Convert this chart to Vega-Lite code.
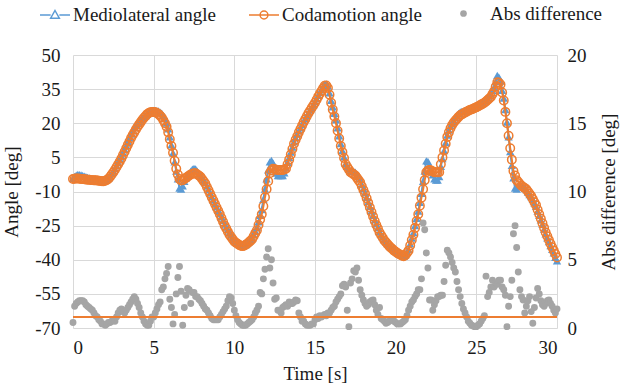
{
  "$schema": "https://vega.github.io/schema/vega-lite/v6.json",
  "width": 484,
  "height": 273,
  "autosize": {"type": "none"},
  "padding": {"left": 73, "top": 55, "right": 65, "bottom": 61},
  "config": {"view": {"stroke": null}},
  "datasets": {
    "series": [
      {"t":0.0,"m":-4.2,"c":-4.5,"d":0.4},{"t":0.1,"m":-3.4,"c":-4.4,"d":1.6},{"t":0.2,"m":-2.8,"c":-4.3,"d":1.8},{"t":0.3,"m":-2.5,"c":-4.3,"d":1.9},{"t":0.4,"m":-2.6,"c":-4.4,"d":2.0},
      {"t":0.5,"m":-2.7,"c":-4.5,"d":2.0},{"t":0.6,"m":-2.9,"c":-4.5,"d":2.0},{"t":0.7,"m":-3.2,"c":-4.6,"d":1.9},{"t":0.8,"m":-3.5,"c":-4.7,"d":1.7},{"t":0.9,"m":-3.8,"c":-4.8,"d":1.6},
      {"t":1.0,"m":-4.0,"c":-4.8,"d":1.5},{"t":1.1,"m":-4.3,"c":-4.9,"d":1.4},{"t":1.2,"m":-4.6,"c":-5.0,"d":1.3},{"t":1.3,"m":-4.8,"c":-5.1,"d":1.1},{"t":1.4,"m":-4.9,"c":-5.1,"d":0.9},
      {"t":1.5,"m":-5.0,"c":-5.2,"d":0.8},{"t":1.6,"m":-5.1,"c":-5.3,"d":0.6},{"t":1.7,"m":-5.2,"c":-5.4,"d":0.5},{"t":1.8,"m":-5.3,"c":-5.5,"d":0.3},{"t":1.9,"m":-5.3,"c":-5.5,"d":0.3},
      {"t":2.0,"m":-5.1,"c":-5.3,"d":0.2},{"t":2.1,"m":-4.7,"c":-4.9,"d":0.3},{"t":2.2,"m":-4.1,"c":-4.4,"d":0.4},{"t":2.3,"m":-3.2,"c":-3.5,"d":0.4},{"t":2.4,"m":-2.1,"c":-2.5,"d":0.5},
      {"t":2.5,"m":-1.0,"c":-1.5,"d":0.6},{"t":2.6,"m":0.0,"c":-0.4,"d":0.5},{"t":2.7,"m":1.4,"c":0.8,"d":0.8},{"t":2.8,"m":2.8,"c":2.0,"d":1.1},{"t":2.9,"m":4.3,"c":3.2,"d":1.3},
      {"t":3.0,"m":5.7,"c":4.5,"d":1.4},{"t":3.1,"m":7.1,"c":6.0,"d":1.2},{"t":3.2,"m":8.5,"c":7.5,"d":1.1},{"t":3.3,"m":10.2,"c":9.0,"d":1.3},{"t":3.4,"m":11.9,"c":10.5,"d":1.5},
      {"t":3.5,"m":13.6,"c":12.0,"d":1.7},{"t":3.6,"m":15.2,"c":13.5,"d":1.9},{"t":3.7,"m":16.7,"c":14.8,"d":2.1},{"t":3.8,"m":18.1,"c":16.0,"d":2.3},{"t":3.9,"m":19.2,"c":17.3,"d":2.1},
      {"t":4.0,"m":20.1,"c":18.5,"d":1.8},{"t":4.1,"m":20.8,"c":19.5,"d":1.5},{"t":4.2,"m":21.5,"c":20.5,"d":1.1},{"t":4.3,"m":22.2,"c":21.5,"d":0.8},{"t":4.4,"m":22.8,"c":22.4,"d":0.5},
      {"t":4.5,"m":23.4,"c":23.2,"d":0.3},{"t":4.6,"m":24.1,"c":24.0,"d":0.2},{"t":4.7,"m":24.6,"c":24.5,"d":0.2},{"t":4.8,"m":25.2,"c":24.8,"d":0.5},{"t":4.9,"m":25.7,"c":25.0,"d":0.8},
      {"t":5.0,"m":25.7,"c":25.0,"d":0.8},{"t":5.1,"m":25.6,"c":24.8,"d":1.1},{"t":5.2,"m":25.6,"c":24.5,"d":1.4},{"t":5.3,"m":25.4,"c":24.0,"d":1.7},{"t":5.4,"m":24.9,"c":23.3,"d":1.9},
      {"t":5.5,"m":24.5,"c":22.5,"d":2.8},{"t":5.6,"m":23.5,"c":21.3,"d":3.0},{"t":5.7,"m":22.0,"c":20.0,"d":3.6},{"t":5.8,"m":20.0,"c":18.5,"d":4.0},{"t":5.9,"m":17.5,"c":16.0,"d":4.5},
      {"t":6.0,"m":14.0,"c":13.0,"d":2.1},{"t":6.1,"m":10.5,"c":10.0,"d":1.5},{"t":6.2,"m":7.0,"c":7.0,"d":0.3},{"t":6.3,"m":3.0,"c":3.5,"d":1.0},{"t":6.4,"m":-1.0,"c":0.0,"d":2.5},
      {"t":6.5,"m":-4.5,"c":-2.5,"d":3.7},{"t":6.6,"m":-8.5,"c":-4.5,"d":4.5},{"t":6.7,"m":-9.0,"c":-5.2,"d":2.7},{"t":6.8,"m":-7.5,"c":-5.0,"d":0.2},{"t":6.9,"m":-5.5,"c":-4.5,"d":1.5},
      {"t":7.0,"m":-4.0,"c":-4.0,"d":2.4},{"t":7.1,"m":-3.0,"c":-3.5,"d":2.9},{"t":7.2,"m":-2.0,"c":-3.0,"d":2.8},{"t":7.3,"m":-1.0,"c":-2.5,"d":1.8},{"t":7.4,"m":-0.2,"c":-2.2,"d":2.6},
      {"t":7.5,"m":0.2,"c":-2.0,"d":2.6},{"t":7.6,"m":0.0,"c":-2.0,"d":2.3},{"t":7.7,"m":-1.0,"c":-2.5,"d":2.3},{"t":7.8,"m":-2.2,"c":-3.0,"d":2.1},{"t":7.9,"m":-3.0,"c":-3.5,"d":2.0},
      {"t":8.0,"m":-4.0,"c":-4.5,"d":1.8},{"t":8.1,"m":-5.0,"c":-5.5,"d":1.6},{"t":8.2,"m":-6.1,"c":-6.5,"d":1.4},{"t":8.3,"m":-7.6,"c":-8.0,"d":1.3},{"t":8.4,"m":-9.2,"c":-9.5,"d":1.1},
      {"t":8.5,"m":-10.7,"c":-11.0,"d":0.9},{"t":8.6,"m":-12.3,"c":-12.5,"d":0.7},{"t":8.7,"m":-13.8,"c":-14.0,"d":0.6},{"t":8.8,"m":-15.3,"c":-15.5,"d":0.6},{"t":8.9,"m":-16.8,"c":-17.0,"d":0.6},
      {"t":9.0,"m":-18.3,"c":-18.5,"d":0.6},{"t":9.1,"m":-19.6,"c":-20.0,"d":0.8},{"t":9.2,"m":-21.2,"c":-21.7,"d":1.0},{"t":9.3,"m":-22.7,"c":-23.3,"d":1.2},{"t":9.4,"m":-24.3,"c":-25.0,"d":1.4},
      {"t":9.5,"m":-25.5,"c":-26.3,"d":1.6},{"t":9.6,"m":-26.8,"c":-27.7,"d":2.0},{"t":9.7,"m":-28.0,"c":-29.0,"d":2.3},{"t":9.8,"m":-29.0,"c":-30.0,"d":2.2},{"t":9.9,"m":-30.2,"c":-31.0,"d":1.8},
      {"t":10.0,"m":-31.4,"c":-32.0,"d":1.3},{"t":10.1,"m":-32.0,"c":-32.5,"d":0.9},{"t":10.2,"m":-32.6,"c":-33.0,"d":0.6},{"t":10.3,"m":-33.2,"c":-33.5,"d":0.4},{"t":10.4,"m":-33.6,"c":-33.8,"d":0.3},
      {"t":10.5,"m":-33.9,"c":-34.0,"d":0.2},{"t":10.6,"m":-33.7,"c":-33.8,"d":0.2},{"t":10.7,"m":-33.3,"c":-33.4,"d":0.2},{"t":10.8,"m":-32.8,"c":-33.0,"d":0.3},{"t":10.9,"m":-32.0,"c":-32.3,"d":0.4},
      {"t":11.0,"m":-31.3,"c":-31.7,"d":0.5},{"t":11.1,"m":-30.5,"c":-31.0,"d":0.6},{"t":11.2,"m":-29.0,"c":-29.7,"d":0.8},{"t":11.3,"m":-27.4,"c":-28.3,"d":1.1},{"t":11.4,"m":-25.9,"c":-27.0,"d":1.3},
      {"t":11.5,"m":-23.3,"c":-24.7,"d":1.6},{"t":11.6,"m":-20.5,"c":-22.3,"d":2.6},{"t":11.7,"m":-18.0,"c":-20.0,"d":2.5},{"t":11.8,"m":-13.5,"c":-16.5,"d":3.6},{"t":11.9,"m":-9.0,"c":-12.5,"d":4.3},
      {"t":12.0,"m":-4.5,"c":-9.0,"d":5.2},{"t":12.1,"m":-0.5,"c":-5.5,"d":5.8},{"t":12.2,"m":3.0,"c":-2.0,"d":4.4},{"t":12.3,"m":3.7,"c":-0.8,"d":5.0},{"t":12.4,"m":2.5,"c":0.0,"d":3.3},
      {"t":12.5,"m":0.5,"c":-0.2,"d":2.1},{"t":12.6,"m":-1.9,"c":-0.4,"d":2.2},{"t":12.7,"m":-3.0,"c":-0.5,"d":1.3},{"t":12.8,"m":-3.0,"c":-0.5,"d":1.3},{"t":12.9,"m":-3.0,"c":-0.5,"d":1.1},
      {"t":13.0,"m":-3.0,"c":-0.5,"d":1.5},{"t":13.1,"m":-1.8,"c":-0.3,"d":1.6},{"t":13.2,"m":0.5,"c":0.0,"d":1.7},{"t":13.3,"m":2.8,"c":2.0,"d":1.6},{"t":13.4,"m":5.0,"c":4.0,"d":1.9},
      {"t":13.5,"m":7.3,"c":6.3,"d":1.8},{"t":13.6,"m":9.5,"c":8.7,"d":1.8},{"t":13.7,"m":11.8,"c":11.0,"d":1.9},{"t":13.8,"m":13.6,"c":12.7,"d":2.05},{"t":13.9,"m":15.2,"c":14.3,"d":2.0},
      {"t":14.0,"m":16.6,"c":16.0,"d":1.1},{"t":14.1,"m":18.0,"c":17.5,"d":0.8},{"t":14.2,"m":19.4,"c":19.0,"d":0.5},{"t":14.3,"m":20.9,"c":20.5,"d":0.5},{"t":14.4,"m":22.1,"c":21.8,"d":0.3},
      {"t":14.5,"m":23.4,"c":23.2,"d":0.2},{"t":14.6,"m":24.7,"c":24.5,"d":0.2},{"t":14.7,"m":25.8,"c":25.6,"d":0.2},{"t":14.8,"m":27.0,"c":26.8,"d":0.3},{"t":14.9,"m":28.1,"c":27.9,"d":0.3},
      {"t":15.0,"m":29.4,"c":29.0,"d":0.6},{"t":15.1,"m":30.8,"c":30.3,"d":0.8},{"t":15.2,"m":32.2,"c":31.7,"d":0.7},{"t":15.3,"m":33.6,"c":33.0,"d":0.9},{"t":15.4,"m":34.8,"c":34.2,"d":0.8},
      {"t":15.5,"m":36.0,"c":35.4,"d":0.9},{"t":15.6,"m":37.2,"c":36.5,"d":1.0},{"t":15.7,"m":37.3,"c":36.6,"d":0.9},{"t":15.8,"m":36.3,"c":35.5,"d":1.1},{"t":15.9,"m":33.4,"c":32.5,"d":1.1},
      {"t":16.0,"m":30.0,"c":29.0,"d":1.3},{"t":16.1,"m":27.2,"c":26.0,"d":1.5},{"t":16.2,"m":24.3,"c":23.0,"d":1.6},{"t":16.3,"m":21.5,"c":20.0,"d":1.9},{"t":16.4,"m":18.0,"c":16.7,"d":2.1},
      {"t":16.5,"m":14.5,"c":13.3,"d":2.3},{"t":16.6,"m":11.0,"c":10.0,"d":2.5},{"t":16.7,"m":8.0,"c":7.3,"d":3.1},{"t":16.8,"m":5.2,"c":4.7,"d":3.2},{"t":16.9,"m":2.4,"c":2.0,"d":3.0},
      {"t":17.0,"m":1.0,"c":0.8,"d":1.3},{"t":17.1,"m":-0.2,"c":-0.3,"d":0.1},{"t":17.2,"m":-1.0,"c":-1.5,"d":3.3},{"t":17.3,"m":-1.2,"c":-2.0,"d":3.6},{"t":17.4,"m":-1.2,"c":-2.5,"d":4.2},
      {"t":17.5,"m":-1.5,"c":-3.0,"d":4.1},{"t":17.6,"m":-2.5,"c":-4.0,"d":4.4},{"t":17.7,"m":-3.0,"c":-5.0,"d":3.5},{"t":17.8,"m":-4.5,"c":-6.0,"d":2.8},{"t":17.9,"m":-7.0,"c":-7.7,"d":2.4},
      {"t":18.0,"m":-8.8,"c":-9.3,"d":2.05},{"t":18.1,"m":-10.6,"c":-11.0,"d":1.8},{"t":18.2,"m":-12.6,"c":-13.0,"d":1.6},{"t":18.3,"m":-14.6,"c":-15.0,"d":1.7},{"t":18.4,"m":-16.5,"c":-17.0,"d":1.9},
      {"t":18.5,"m":-18.5,"c":-19.0,"d":2.0},{"t":18.6,"m":-20.5,"c":-21.0,"d":2.05},{"t":18.7,"m":-22.5,"c":-23.0,"d":1.7},{"t":18.8,"m":-24.2,"c":-24.7,"d":1.3},{"t":18.9,"m":-25.9,"c":-26.3,"d":1.0},
      {"t":19.0,"m":-27.6,"c":-28.0,"d":1.5},{"t":19.1,"m":-28.9,"c":-29.2,"d":0.7},{"t":19.2,"m":-30.0,"c":-30.3,"d":0.6},{"t":19.3,"m":-31.2,"c":-31.5,"d":0.5},{"t":19.4,"m":-32.0,"c":-32.3,"d":0.35},
      {"t":19.5,"m":-32.9,"c":-33.2,"d":0.4},{"t":19.6,"m":-33.7,"c":-34.0,"d":0.5},{"t":19.7,"m":-34.4,"c":-34.7,"d":0.6},{"t":19.8,"m":-35.0,"c":-35.3,"d":0.6},{"t":19.9,"m":-35.7,"c":-36.0,"d":0.5},
      {"t":20.0,"m":-36.2,"c":-36.5,"d":0.4},{"t":20.1,"m":-36.8,"c":-37.0,"d":0.3},{"t":20.2,"m":-37.3,"c":-37.5,"d":0.3},{"t":20.3,"m":-37.6,"c":-37.8,"d":0.3},{"t":20.4,"m":-38.0,"c":-38.2,"d":0.4},
      {"t":20.5,"m":-38.4,"c":-38.5,"d":0.5},{"t":20.6,"m":-37.7,"c":-38.0,"d":0.6},{"t":20.7,"m":-36.6,"c":-37.0,"d":0.9},{"t":20.8,"m":-35.4,"c":-36.0,"d":1.3},{"t":20.9,"m":-33.0,"c":-33.7,"d":1.6},
      {"t":21.0,"m":-30.5,"c":-31.3,"d":1.9},{"t":21.1,"m":-28.1,"c":-29.0,"d":2.05},{"t":21.2,"m":-25.0,"c":-26.0,"d":2.3},{"t":21.3,"m":-21.8,"c":-23.0,"d":2.5},{"t":21.4,"m":-18.6,"c":-20.0,"d":2.8},
      {"t":21.5,"m":-14.8,"c":-16.3,"d":2.8},{"t":21.6,"m":-10.8,"c":-12.7,"d":3.6},{"t":21.7,"m":-5.5,"c":-9.0,"d":7.7},{"t":21.8,"m":-1.0,"c":-5.0,"d":7.2},{"t":21.9,"m":3.5,"c":-1.5,"d":5.5},
      {"t":22.0,"m":3.2,"c":-0.8,"d":4.4},{"t":22.1,"m":1.5,"c":-0.5,"d":2.05},{"t":22.2,"m":-0.8,"c":-0.8,"d":2.05},{"t":22.3,"m":-2.7,"c":-1.2,"d":1.3},{"t":22.4,"m":-4.5,"c":-1.5,"d":1.7},
      {"t":22.5,"m":-5.0,"c":-1.5,"d":2.0},{"t":22.6,"m":-5.0,"c":-1.5,"d":2.3},{"t":22.7,"m":-3.5,"c":-1.5,"d":2.3},{"t":22.8,"m":1.0,"c":2.0,"d":2.4},{"t":22.9,"m":4.5,"c":5.0,"d":2.4},
      {"t":23.0,"m":8.0,"c":8.0,"d":3.4},{"t":23.1,"m":11.5,"c":11.0,"d":4.6},{"t":23.2,"m":14.8,"c":14.0,"d":5.7},{"t":23.3,"m":17.0,"c":16.0,"d":5.5},{"t":23.4,"m":18.8,"c":17.8,"d":5.2},
      {"t":23.5,"m":20.2,"c":19.2,"d":4.8},{"t":23.6,"m":21.3,"c":20.3,"d":4.4},{"t":23.7,"m":22.5,"c":21.2,"d":4.1},{"t":23.8,"m":23.5,"c":22.0,"d":3.4},{"t":23.9,"m":24.3,"c":22.8,"d":2.8},
      {"t":24.0,"m":25.0,"c":23.5,"d":2.3},{"t":24.1,"m":25.2,"c":23.9,"d":1.8},{"t":24.2,"m":25.3,"c":24.3,"d":1.4},{"t":24.3,"m":25.4,"c":24.7,"d":1.1},{"t":24.4,"m":25.7,"c":25.1,"d":0.8},
      {"t":24.5,"m":25.9,"c":25.5,"d":0.5},{"t":24.6,"m":26.1,"c":25.8,"d":0.35},{"t":24.7,"m":26.3,"c":26.1,"d":0.2},{"t":24.8,"m":26.5,"c":26.4,"d":0.15},{"t":24.9,"m":26.8,"c":26.7,"d":0.1},
      {"t":25.0,"m":27.1,"c":27.0,"d":0.1},{"t":25.1,"m":27.6,"c":27.4,"d":0.2},{"t":25.2,"m":28.1,"c":27.8,"d":0.3},{"t":25.3,"m":28.7,"c":28.2,"d":0.5},{"t":25.4,"m":29.3,"c":28.6,"d":0.7},
      {"t":25.5,"m":29.9,"c":29.0,"d":0.9},{"t":25.6,"m":30.6,"c":29.6,"d":3.8},{"t":25.7,"m":31.2,"c":30.2,"d":2.3},{"t":25.8,"m":32.0,"c":30.9,"d":2.6},{"t":25.9,"m":32.8,"c":31.5,"d":3.0},
      {"t":26.0,"m":34.3,"c":32.8,"d":3.5},{"t":26.1,"m":35.8,"c":34.0,"d":3.0},{"t":26.2,"m":38.3,"c":36.0,"d":3.3},{"t":26.3,"m":41.0,"c":38.0,"d":3.2},{"t":26.4,"m":40.3,"c":37.8,"d":3.5},
      {"t":26.5,"m":38.5,"c":37.0,"d":3.5},{"t":26.6,"m":34.5,"c":33.5,"d":3.0},{"t":26.7,"m":31.0,"c":30.0,"d":2.8},{"t":26.8,"m":26.0,"c":25.0,"d":2.4},{"t":26.9,"m":20.5,"c":20.0,"d":0.1},
      {"t":27.0,"m":14.0,"c":14.5,"d":1.6},{"t":27.1,"m":7.5,"c":9.0,"d":2.3},{"t":27.2,"m":1.5,"c":4.0,"d":3.5},{"t":27.3,"m":-4.0,"c":-1.0,"d":6.9},{"t":27.4,"m":-8.5,"c":-3.0,"d":7.5},
      {"t":27.5,"m":-9.0,"c":-5.0,"d":5.9},{"t":27.6,"m":-7.3,"c":-5.8,"d":4.1},{"t":27.7,"m":-7.0,"c":-6.7,"d":2.8},{"t":27.8,"m":-7.5,"c":-7.5,"d":2.3},{"t":27.9,"m":-8.0,"c":-8.0,"d":2.05},
      {"t":28.0,"m":-8.6,"c":-8.5,"d":1.1},{"t":28.1,"m":-9.2,"c":-9.0,"d":1.6},{"t":28.2,"m":-10.3,"c":-10.0,"d":2.0},{"t":28.3,"m":-11.4,"c":-11.0,"d":2.3},{"t":28.4,"m":-12.3,"c":-12.0,"d":1.2},
      {"t":28.5,"m":-13.5,"c":-13.3,"d":0.35},{"t":28.6,"m":-15.0,"c":-14.7,"d":1.5},{"t":28.7,"m":-16.5,"c":-16.0,"d":2.2},{"t":28.8,"m":-18.6,"c":-18.0,"d":2.9},{"t":28.9,"m":-20.5,"c":-20.0,"d":2.5},
      {"t":29.0,"m":-22.5,"c":-22.0,"d":2.0},{"t":29.1,"m":-24.5,"c":-24.0,"d":1.7},{"t":29.2,"m":-26.5,"c":-26.0,"d":1.6},{"t":29.3,"m":-28.6,"c":-28.0,"d":1.8},{"t":29.4,"m":-30.4,"c":-29.7,"d":2.0},
      {"t":29.5,"m":-32.0,"c":-31.3,"d":2.05},{"t":29.6,"m":-33.8,"c":-33.0,"d":1.8},{"t":29.7,"m":-35.4,"c":-34.5,"d":1.6},{"t":29.8,"m":-37.0,"c":-36.0,"d":1.3},{"t":29.9,"m":-39.0,"c":-37.5,"d":1.1},
      {"t":30.0,"m":-40.5,"c":-39.0,"d":1.4}
    ],
    "threshold": [{"level": 0.8}]
  },
  "data": {"name": "series"},
  "encoding": {
    "x": {
      "field": "t",
      "type": "quantitative",
      "scale": {"domain": [0, 30], "nice": false, "zero": false},
      "axis": {
        "title": "Time [s]",
        "values": [0, 5, 10, 15, 20, 25, 30],
        "grid": true,
        "gridColor": "#d9d9d9",
        "domain": false,
        "ticks": false,
        "labelFont": "serif",
        "labelFontSize": 19,
        "labelColor": "#1a1a1a",
        "titleFont": "serif",
        "titleFontSize": 19,
        "titleFontWeight": "normal",
        "titleColor": "#1a1a1a",
        "labelPadding": 10,
        "titlePadding": 7
      }
    }
  },
  "layer": [
    {
      "encoding": {
        "y": {
          "type": "quantitative",
          "scale": {"domain": [-70, 50], "nice": false, "zero": false},
          "axis": {
            "orient": "left",
            "title": "Angle [deg]",
            "values": [-70, -55, -40, -25, -10, 5, 20, 35, 50],
            "labelExpr": "datum.value + ''",
            "grid": true,
            "gridColor": "#d9d9d9",
            "domain": false,
            "ticks": false,
            "labelFont": "serif",
            "labelFontSize": 19,
            "labelColor": "#1a1a1a",
            "titleFont": "serif",
            "titleFontSize": 19,
            "titleFontWeight": "normal",
            "titleColor": "#1a1a1a",
            "labelPadding": 13,
            "titlePadding": 13
          }
        }
      },
      "layer": [
        {
          "mark": {"type": "line", "strokeWidth": 2},
          "encoding": {
            "y": {"field": "m"},
            "stroke": {
              "datum": "Mediolateral angle",
              "type": "nominal",
              "scale": {"domain": ["Mediolateral angle"], "range": ["#5b9bd5"]},
              "legend": {
                "title": null,
                "orient": "none",
                "padding": 0,
                "legendX": -34,
                "legendY": -56,
                "symbolType": "M-1,0H-0.29M0.29,0H1M0,-0.3L0.29,0.21L-0.29,0.21Z",
                "symbolSize": 900,
                "symbolStrokeWidth": 1.5,
                "symbolFillColor": "#ffffff",
                "labelFont": "serif",
                "labelFontSize": 19,
                "labelColor": "#1a1a1a",
                "labelOffset": 2
              }
            }
          }
        },
        {
          "mark": {"type": "point", "shape": "triangle-up", "filled": true, "size": 70, "color": "#5b9bd5", "opacity": 1},
          "encoding": {"y": {"field": "m"}}
        },
        {
          "mark": {"type": "line", "strokeWidth": 2},
          "encoding": {
            "y": {"field": "c"},
            "color": {
              "datum": "Codamotion angle",
              "type": "nominal",
              "scale": {"domain": ["Codamotion angle"], "range": ["#ed7d31"]},
              "legend": {
                "title": null,
                "orient": "none",
                "padding": 0,
                "legendX": 175,
                "legendY": -56,
                "symbolType": "M-1,0H1M-0.26,0A0.26,0.26,0,1,1,0.26,0A0.26,0.26,0,1,1,-0.26,0Z",
                "symbolSize": 900,
                "symbolStrokeWidth": 1.5,
                "labelFont": "serif",
                "labelFontSize": 19,
                "labelColor": "#1a1a1a",
                "labelOffset": 2
              }
            }
          }
        },
        {
          "mark": {"type": "point", "shape": "circle", "filled": false, "size": 72, "strokeWidth": 1.5, "color": "#ed7d31", "opacity": 1},
          "encoding": {"y": {"field": "c"}}
        }
      ]
    },
    {
      "layer": [
        {
          "mark": {"type": "point", "filled": true, "size": 48, "opacity": 1},
          "encoding": {
            "y": {
              "field": "d",
              "type": "quantitative",
              "scale": {"domain": [0, 20], "nice": false},
              "axis": {
                "orient": "right",
                "title": "Abs difference [deg]",
                "values": [0, 2.5, 5, 7.5, 10, 12.5, 15, 17.5, 20],
                "format": ".0f",
                "grid": false,
                "domain": false,
                "ticks": false,
                "labelFont": "serif",
                "labelFontSize": 19,
                "labelColor": "#1a1a1a",
                "titleFont": "serif",
                "titleFontSize": 19,
                "titleFontWeight": "normal",
                "titleColor": "#1a1a1a",
                "labelPadding": 10,
                "titlePadding": 13,
                "titleAngle": -90,
                "titleBaseline": "top"
              }
            },
            "fill": {
              "datum": "Abs difference",
              "type": "nominal",
              "scale": {"domain": ["Abs difference"], "range": ["#a5a5a5"]},
              "legend": {
                "title": null,
                "orient": "none",
                "padding": 0,
                "legendX": 381,
                "legendY": -51,
                "symbolType": "circle",
                "symbolSize": 45,
                "labelFont": "serif",
                "labelFontSize": 19,
                "labelColor": "#1a1a1a",
                "labelOffset": 17
              }
            }
          }
        },
        {
          "data": {"name": "threshold"},
          "mark": {"type": "rule", "color": "#ed7d31", "strokeWidth": 2},
          "encoding": {
            "x": null,
            "y": {"field": "level", "type": "quantitative"}
          }
        }
      ]
    }
  ],
  "resolve": {"scale": {"y": "independent"}}
}
